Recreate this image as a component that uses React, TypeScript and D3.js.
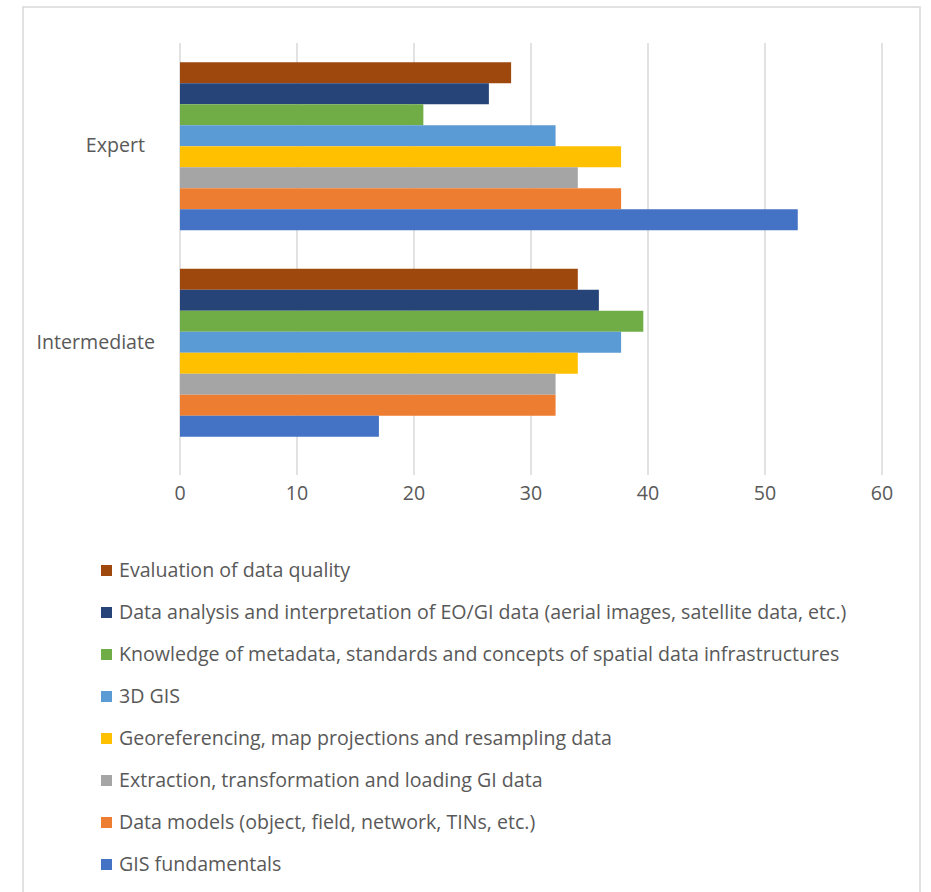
import React from "react";
import * as d3 from "d3";

const categories = ["Expert", "Intermediate"];
const seriesNames = [
  "Evaluation of data quality",
  "Data analysis and interpretation of EO/GI data (aerial images, satellite data, etc.)",
  "Knowledge of metadata, standards and concepts of spatial data infrastructures",
  "3D GIS",
  "Georeferencing, map projections and resampling data",
  "Extraction, transformation and loading GI data",
  "Data models (object, field, network, TINs, etc.)",
  "GIS fundamentals",
];
const seriesColors = ["#9E480E", "#264478", "#70AD47", "#5B9BD5", "#FFC000", "#A5A5A5", "#ED7D31", "#4472C4"];
// values per series: [Expert, Intermediate]
const expertValues = [28.3, 26.4, 20.8, 32.1, 37.7, 34.0, 37.7, 52.8];
const intermediateValues = [34.0, 35.8, 39.6, 37.7, 34.0, 32.1, 32.1, 17.0];
const xTicks = [0, 10, 20, 30, 40, 50, 60];

const FONT = "'Open Sans', sans-serif";
const TEXT = "#595959";

export default function App() {
  const W = 931, H = 892;
  const x = d3.scaleLinear().domain([0, 60]).range([180, 882]);
  const y0 = d3.scaleBand<string>().domain(categories).range([43, 456]).paddingInner(0).paddingOuter(0);
  const groupH = 168;
  const y1 = d3.scaleBand<string>().domain(seriesNames).range([0, groupH]);
  const valuesByCat: Record<string, number[]> = { Expert: expertValues, Intermediate: intermediateValues };
  const gridTop = 43, gridBottom = 475;
  const labelPos: Record<string, { x: number; dy: number }> = {
    Expert: { x: 145, dy: -1 },
    Intermediate: { x: 155, dy: -11 },
  };
  const fs = 19.6;

  return (
    <svg width={W} height={H} style={{ position: "absolute", left: 0, top: 0, background: "#fff" }} fontFamily={FONT}>
      <rect x={0} y={0} width={W} height={H} fill="#fff" />
      <rect x={23} y={7} width={897} height={H + 20} fill="#fff" stroke="#d9d9d9" strokeWidth={1.5} />
      {xTicks.map((t) => (
        <line key={t} x1={x(t)} x2={x(t)} y1={gridTop} y2={gridBottom} stroke="#d9d9d9" strokeWidth={1.5} />
      ))}
      {categories.map((c) => {
        const band = y0(c)!;
        const top = band + (y0.bandwidth() - groupH) / 2;
        return (
          <g key={c}>
            {seriesNames.map((s, i) => (
              <rect key={s} x={x(0)} y={top + y1(s)!} width={x(valuesByCat[c][i]) - x(0)} height={y1.bandwidth()} fill={seriesColors[i]} />
            ))}
          </g>
        );
      })}
      {categories.map((c) => (
        <text key={c} x={labelPos[c].x} y={y0(c)! + y0.bandwidth() / 2 + labelPos[c].dy} dy="0.35em" textAnchor="end" fontSize={fs} fill={TEXT}>
          {c}
        </text>
      ))}
      {xTicks.map((t) => (
        <text key={t} x={x(t)} y={493} dy="0.35em" textAnchor="middle" fontSize={fs} fill={TEXT}>
          {t}
        </text>
      ))}
      {seriesNames.map((s, i) => (
        <g key={s} transform={`translate(0, ${570 + i * 42})`}>
          <rect x={101} y={-5} width={11} height={11} fill={seriesColors[i]} />
          <text x={119} y={0} dy="0.35em" fontSize={fs} fill={TEXT}>{s}</text>
        </g>
      ))}
    </svg>
  );
}
